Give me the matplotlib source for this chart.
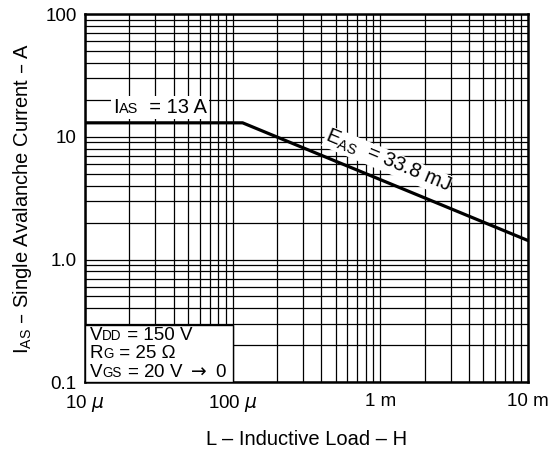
import numpy as np
import matplotlib.pyplot as plt
from matplotlib.ticker import LogLocator, NullFormatter
from matplotlib.offsetbox import TextArea, HPacker, VPacker, AnnotationBbox

plt.rcParams['font.family'] = ['Liberation Sans', 'DejaVu Sans']

# avalanche current vs inductive load
load_h = [10e-6, 117e-6, 10e-3]
current_a = [13.0, 13.0, 1.43]

x_ticks = [10e-6, 100e-6, 1e-3, 10e-3]
x_labels = ['10 $\\mu$', '100 $\\mu$', '1 m', '10 m']
y_ticks = [0.1, 1, 10, 100]
y_labels = ['0.1', '1.0', '10', '100']

# test conditions, (text, subscript, rest)
cond_lines = [('V', 'DD', ' = 150 V'),
              ('R', 'G', ' = 25 \u03a9'),
              ('V', 'GS', ' = 20 V $\\rightarrow$ 0')]


def small_caps(main, sub, rest, fs):
    # subscript drawn smaller but on the baseline, as in the datasheet
    parts = [TextArea(main, textprops=dict(fontsize=fs)),
             TextArea(sub, textprops=dict(fontsize=fs * 0.72)),
             TextArea(rest, textprops=dict(fontsize=fs))]
    return HPacker(children=parts, align='baseline', pad=0, sep=0)


fig = plt.figure(figsize=(5.55, 4.55), dpi=100)
ax = fig.add_axes([0.153, 0.160, 0.798, 0.809])
ax.set_xscale('log')
ax.set_yscale('log')
ax.set_xlim(10e-6, 10e-3)
ax.set_ylim(0.1, 100)

ax.xaxis.set_minor_locator(LogLocator(base=10, subs=np.arange(2, 10)))
ax.yaxis.set_minor_locator(LogLocator(base=10, subs=np.arange(2, 10)))
ax.xaxis.set_minor_formatter(NullFormatter())
ax.yaxis.set_minor_formatter(NullFormatter())
ax.grid(True, which='both', color='black', lw=0.9)
ax.set_axisbelow(True)

ax.set_xticks(x_ticks)
ax.set_xticklabels(x_labels)
ax.set_yticks(y_ticks)
ax.set_yticklabels(y_labels)
ax.tick_params(which='both', length=0, labelsize=13.5)
ax.tick_params(axis='y', pad=6)
ax.tick_params(axis='x', pad=8)
for s in ax.spines.values():
    s.set_linewidth(1.8)

ax.plot(load_h, current_a, color='black', lw=2.3, zorder=5)

# I_AS label with white background
ias = small_caps('I', 'AS', '  = 13 A', 14.5)
ab = AnnotationBbox(ias, (15.5e-6, 14.6), xycoords='data', box_alignment=(0, 0),
                    frameon=True, pad=0.15,
                    bboxprops=dict(facecolor='white', edgecolor='none'))
ab.set_zorder(6)
ax.add_artist(ab)

# energy label sits on the sloped line; line stays on top of its background
ax.text(1.05e-3, 5.25, 'E$_\\mathregular{AS}$  = 33.8 mJ', fontsize=14.5,
        rotation=-22.6, rotation_mode='anchor', ha='center', va='bottom',
        bbox=dict(facecolor='white', edgecolor='none', pad=0.3), zorder=4.5)

# conditions box in lower-left corner
ax.fill_between([10e-6, 100e-6], 0.1, 0.29, facecolor='white',
                edgecolor='black', lw=1.0, zorder=4)
cond = VPacker(children=[small_caps(a, b, c, 13.5) for a, b, c in cond_lines],
               align='left', pad=0, sep=1)
ab2 = AnnotationBbox(cond, (10.8e-6, 0.103), xycoords='data',
                     box_alignment=(0, 0), frameon=False, pad=0)
ab2.set_zorder(7)
ax.add_artist(ab2)

ax.set_xlabel('L – Inductive Load – H', fontsize=14.5, labelpad=11)
ax.set_ylabel('I$_\\mathregular{AS}$ – Single Avalanche Current – A',
              fontsize=14.5, labelpad=8)

fig.savefig('out.png', dpi=100, facecolor='white')
